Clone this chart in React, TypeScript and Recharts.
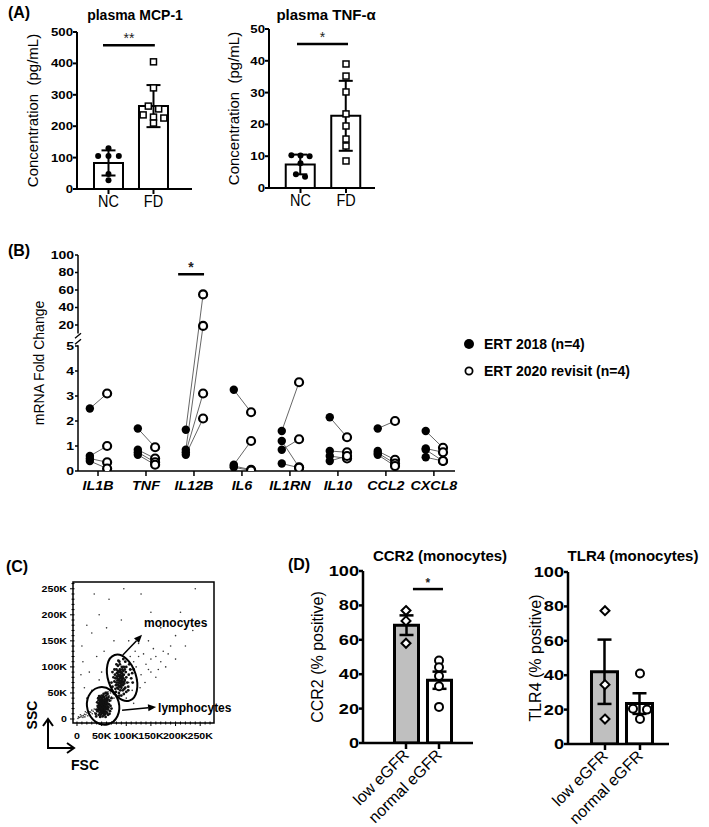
import React from "react";
import {
  ComposedChart,
  Bar,
  Cell,
  ErrorBar,
  Scatter,
  Line,
  XAxis,
  YAxis,
  ReferenceLine,
  ReferenceDot,
  ReferenceArea,
} from "recharts";

const FONT = "'Liberation Sans', Arial, sans-serif";

// ---- (A) plasma cytokines, NC vs FD (mean ± SD) ----
const groupsA = ["NC", "FD"];
const mcp1Mean = [83, 264];
const mcp1Sd = [40, 67];
const mcp1NC = [130, 105, 105, 105, 48, 28];
const mcp1FD = [405, 322, 264, 255, 236, 229, 226, 210];
const tnfMean = [7.4, 22.7];
const tnfSd = [3.1, 11];
const tnfNC = [10.3, 10.2, 10.0, 7.8, 4.3, 3.5];
const tnfFD = [39, 35.2, 30.2, 23.3, 19.5, 15.4, 13.2, 8.5];

// ---- (B) mRNA fold change, paired ERT 2018 -> ERT 2020 ----
const genes = ["IL1B", "TNF", "IL12B", "IL6", "IL1RN", "IL10", "CCL2", "CXCL8"];
const ert2018 = [
  [2.5, 0.6, 0.5, 0.4],
  [1.7, 0.85, 0.75, 0.65],
  [1.65, 0.85, 0.75, 0.65],
  [3.25, 0.25, 0.2, 0.15],
  [1.6, 1.2, 0.85, 0.3],
  [2.15, 0.8, 0.6, 0.4],
  [1.7, 0.8, 0.72, 0.65],
  [1.6, 0.9, 0.85, 0.55],
];
const ert2020 = [
  [3.1, 1.0, 0.35, 0.1],
  [0.95, 0.5, 0.35, 0.25],
  [55, 19, 3.1, 2.1],
  [2.35, 1.2, 0.05, 0.02],
  [3.55, 0.15, 1.27, 0.13],
  [1.35, 0.75, 0.5, 0.6],
  [2.0, 0.45, 0.3, 0.2],
  [0.93, 0.75, 0.4, 0.4],
];
const lowTicks = [0, 1, 2, 3, 4, 5];
const highTicks = [20, 40, 60, 80, 100];

// ---- (C) FSC / SSC events, in K ----
const debrisEvents = [
  [2, 1], [5, 3], [8, 4], [10, 6], [13, 6], [15, 9], [18, 8], [20, 12], [23, 11], [26, 14],
  [28, 13], [30, 17], [33, 15], [35, 19], [38, 18], [12, 3], [22, 6], [7, 8], [3, 4], [17, 14],
  [25, 9], [31, 10], [36, 12], [40, 14], [16, 4],
];
const lymphocyteEvents = [
  [45, 20], [48, 28], [50, 22], [52, 30], [55, 25], [53, 18], [57, 33], [49, 35], [46, 12], [58, 20],
  [60, 28], [51, 40], [54, 15], [47, 25], [56, 38], [62, 24], [44, 30], [50, 10], [59, 14], [53, 27],
  [48, 17], [55, 42], [61, 35], [43, 22], [57, 9], [52, 35], [46, 38], [63, 18], [50, 31], [54, 21],
  [58, 27], [49, 23], [56, 16], [45, 27], [60, 40], [53, 12], [51, 26], [47, 33], [55, 30], [62, 30],
  [42, 15], [59, 45], [64, 22], [48, 8], [52, 20], [57, 24], [50, 37], [54, 33], [46, 19], [61, 12],
  [53, 44], [58, 34], [44, 36], [49, 14], [56, 21], [51, 17], [65, 28], [47, 42], [55, 8], [60, 19],
  [38, 10], [40, 18], [42, 25], [39, 5], [41, 32], [44, 8], [66, 35], [68, 25], [70, 40], [67, 15],
  [64, 42], [62, 48], [58, 50], [54, 48], [50, 45], [45, 44], [43, 40], [66, 10], [63, 8], [70, 20],
  [52, 5], [58, 4], [47, 4], [60, 50], [56, 26], [54, 29], [52, 23], [50, 27], [57, 19], [55, 35],
  [53, 32], [49, 20], [51, 13], [59, 31], [48, 31], [46, 23], [61, 22], [56, 11], [62, 38], [44, 17],
];
const bridgeEvents = [
  [65, 45], [68, 50], [70, 42], [72, 55], [66, 38], [74, 48], [63, 52], [69, 35], [75, 40], [71, 60],
];
const monocyteEvents = [
  [80, 70], [85, 75], [88, 68], [90, 80], [84, 85], [92, 72], [86, 62], [78, 78], [95, 85], [89, 90],
  [82, 60], [93, 65], [87, 95], [91, 100], [83, 92], [97, 75], [79, 65], [86, 82], [94, 92], [88, 55],
  [81, 88], [90, 60], [96, 68], [84, 70], [92, 82], [87, 105], [99, 90], [77, 85], [85, 50], [93, 55],
  [89, 73], [82, 78], [98, 60], [91, 88], [86, 110], [80, 95], [95, 100], [88, 85], [84, 58], [100, 80],
  [83, 102], [92, 95], [76, 72], [90, 70], [87, 78], [94, 78], [81, 82], [96, 58], [89, 63], [85, 90],
  [68, 55], [72, 62], [75, 50], [70, 70], [74, 80], [78, 58], [102, 70], [105, 85], [108, 95], [110, 78],
  [104, 62], [112, 88], [100, 100], [106, 105], [98, 110], [94, 115], [72, 90], [76, 95], [80, 105], [84, 112],
  [90, 45], [95, 48], [100, 52], [86, 45], [104, 55], [115, 95], [113, 70], [97, 95], [79, 52], [83, 66],
  [91, 76], [88, 92], [93, 84], [85, 64], [96, 72], [82, 74], [90, 65], [87, 72], [94, 69], [89, 82],
];
const sparseEvents = [
  [110, 95], [115, 110], [120, 100], [125, 120], [105, 70], [130, 85], [140, 105], [150, 115], [135, 125], [145, 95],
  [160, 120], [170, 110], [155, 135], [118, 130], [108, 120], [122, 75], [128, 60], [138, 70], [112, 55], [150, 90],
  [165, 95], [175, 130], [185, 125], [190, 140], [200, 115], [145, 150], [125, 145], [105, 150], [180, 100], [160, 80],
  [20, 180], [30, 165], [45, 200], [60, 175], [40, 120], [25, 90], [15, 60], [10, 140], [35, 240], [65, 230],
  [95, 250], [130, 240], [150, 205], [170, 175], [200, 160], [210, 205], [240, 250], [55, 130], [75, 150], [90, 190],
  [50, 90], [30, 55], [20, 40], [100, 40], [115, 30], [8, 85], [12, 110], [45, 75], [235, 170], [220, 140],
];
const flowMajor = [0, 50, 100, 150, 200, 250];

// ---- (D) monocyte markers (mean ± SEM) ----
const groupsD = ["low eGFR", "normal eGFR"];
const ccr2Mean = [68.5, 36.5];
const ccr2Sem = [5.7, 5];
const ccr2Low = [77, 71, 58];
const ccr2Normal = [48, 44, 39, 33, 21];
const tlr4Mean = [42, 23.5];
const tlr4Sem = [18.7, 6];
const tlr4Low = [77.5, 34.5, 14.5];
const tlr4Normal = [41, 20.5, 20, 14.5];

// broken y axis for (B): 0-5 linear, then 20-100 compressed
const fold = (v: number) => (v <= 5 ? v : 5.84 + (v - 20) * 0.035);
const bTicks = [...lowTicks, ...highTicks];
const bTickPos = bTicks.map(fold);

// GraphPad-like horizontal spreading of points that sit at similar values
function swarm(values: number[], center: number, thr: number, step: number) {
  const order = values.map((_, i) => i).sort((a, b) => values[b] - values[a]);
  const out: { x: number; y: number }[] = new Array(values.length);
  let i = 0;
  while (i < order.length) {
    const head = values[order[i]];
    let j = i;
    while (j < order.length && head - values[order[j]] < thr) j++;
    const k = j - i;
    for (let m = 0; m < k; m++) {
      out[order[i + m]] = { x: center + (m - (k - 1) / 2) * step, y: values[order[i + m]] };
    }
    i = j;
  }
  return out;
}

type TickOpts = {
  size: number;
  sx?: number;
  weight?: string | number;
  italic?: boolean;
  anchor: "start" | "middle" | "end";
  dy?: string;
  rotate?: number;
  fmt: (v: number) => string;
};

const stretchTick = (o: TickOpts) => (props: any) => {
  const { x, y, payload } = props;
  return (
    <g transform={`translate(${x},${y})`}>
      <text
        transform={`rotate(${o.rotate ?? 0}) scale(${o.sx ?? 1},1)`}
        textAnchor={o.anchor}
        dy={o.dy ?? "0.355em"}
        fontSize={o.size}
        fontWeight={o.weight ?? "bold"}
        fontStyle={o.italic ? "italic" : "normal"}
        fontFamily={FONT}
        fill="#000"
      >
        {o.fmt(payload.value)}
      </text>
    </g>
  );
};

const dotShape = (p: any) => <circle cx={p.cx} cy={p.cy} r={3} fill="#000" />;
const squareShape = (p: any) => (
  <rect x={p.cx - 3} y={p.cy - 3} width={6} height={6} fill="#fff" stroke="#000" strokeWidth={1.5} />
);
const diamondShape = (p: any) => (
  <polygon
    points={`${p.cx},${p.cy - 4.5} ${p.cx + 4.5},${p.cy} ${p.cx},${p.cy + 4.5} ${p.cx - 4.5},${p.cy}`}
    fill="#fff"
    stroke="#000"
    strokeWidth={2}
  />
);
const ringShape = (p: any) => <circle cx={p.cx} cy={p.cy} r={4} fill="#fff" stroke="#000" strokeWidth={2} />;

const starShape = (text: string, size: number, weight: string | number) => (p: any) => (
  <text x={p.cx} y={p.cy - 2} textAnchor="middle" fontSize={size} fontWeight={weight} fontFamily={FONT} fill="#222">
    {text}
  </text>
);

type BarPanelProps = {
  left: number;
  top: number;
  width: number;
  height: number;
  margin: { top: number; right: number; bottom: number; left: number };
  yAxisWidth: number;
  xAxisHeight: number;
  xDomain: [number, number];
  yDomain: [number, number];
  yTicks: number[];
  groups: string[];
  means: number[];
  errs: number[];
  points: number[][];
  shapes: ((p: any) => React.ReactElement)[];
  thr: number;
  step: number;
  barSize: number;
  barFills: string[];
  barStroke: number;
  axisW: number;
  capW: number;
  yLabel: string;
  yLabelOffset: number;
  yLabelSize: number;
  yTick: (p: any) => React.ReactElement;
  xTick: (p: any) => React.ReactElement;
  xTickSize: number;
  xTickMargin: number;
  yTickSize: number;
  sig?: { x1: number; x2: number; y: number; text: string; size: number; weight: string | number; w: number };
};

function BarPanel(p: BarPanelProps) {
  const barData = p.means.map((m, i) => ({ x: i + 1, y: m, err: p.errs[i] }));
  const pts = p.points.map((vals, i) => swarm(vals, i + 1, p.thr, p.step));
  return (
    <div style={{ position: "absolute", left: p.left, top: p.top }}>
      <ComposedChart width={p.width} height={p.height} data={barData} margin={p.margin}>
        <XAxis
          type="number"
          dataKey="x"
          domain={p.xDomain}
          ticks={p.groups.map((_, i) => i + 1)}
          interval={0}
          allowDataOverflow
          height={p.xAxisHeight}
          axisLine={{ stroke: "#000", strokeWidth: p.axisW }}
          tickLine={{ stroke: "#000", strokeWidth: p.axisW }}
          tickSize={p.xTickSize}
          tickMargin={p.xTickMargin}
          tick={p.xTick}
        />
        <XAxis xAxisId="pts" type="number" dataKey="x" domain={p.xDomain} allowDataOverflow hide />
        <YAxis
          type="number"
          dataKey="y"
          domain={p.yDomain}
          ticks={p.yTicks}
          interval={0}
          allowDataOverflow
          width={p.yAxisWidth}
          axisLine={{ stroke: "#000", strokeWidth: p.axisW }}
          tickLine={{ stroke: "#000", strokeWidth: p.axisW }}
          tickSize={p.yTickSize}
          tickMargin={0}
          tick={p.yTick}
          label={{
            value: p.yLabel,
            angle: -90,
            position: "insideLeft",
            offset: p.yLabelOffset,
            style: { textAnchor: "middle", fontSize: p.yLabelSize, fill: "#000", fontFamily: FONT },
          }}
        />
        <Bar dataKey="y" barSize={p.barSize} stroke="#000" strokeWidth={p.barStroke} isAnimationActive={false}>
          {barData.map((_, i) => (
            <Cell key={i} fill={p.barFills[i]} />
          ))}
          <ErrorBar dataKey="err" direction="y" width={p.capW} stroke="#000" strokeWidth={p.axisW} />
        </Bar>
        {pts.map((d, i) => (
          <Scatter key={i} xAxisId="pts" data={d} dataKey="y" shape={p.shapes[i]} isAnimationActive={false} />
        ))}
        {p.sig && (
          <ReferenceLine
            segment={[
              { x: p.sig.x1, y: p.sig.y },
              { x: p.sig.x2, y: p.sig.y },
            ]}
            stroke="#000"
            strokeWidth={p.sig.w}
            ifOverflow="visible"
          />
        )}
        {p.sig && (
          <ReferenceDot
            x={(p.sig.x1 + p.sig.x2) / 2}
            y={p.sig.y}
            ifOverflow="visible"
            shape={starShape(p.sig.text, p.sig.size, p.sig.weight)}
          />
        )}
      </ComposedChart>
    </div>
  );
}

function Caption(props: { x: number; y: number; size: number; bold?: boolean; rotate?: number; children: React.ReactNode }) {
  return (
    <div
      style={{
        position: "absolute",
        left: props.x,
        top: props.y,
        transform: `translate(-50%,-50%) rotate(${props.rotate ?? 0}deg)`,
        fontSize: props.size,
        fontWeight: props.bold ? "bold" : "normal",
        whiteSpace: "nowrap",
        lineHeight: 1,
        color: "#000",
      }}
    >
      {props.children}
    </div>
  );
}

const numFmt = (v: number) => String(v);
const aYTick = stretchTick({ size: 11, sx: 1.2, anchor: "end", fmt: numFmt });
const aXTick = stretchTick({ size: 17, sx: 0.85, weight: "normal", anchor: "middle", dy: "0.71em", fmt: (v) => groupsA[v - 1] });
const dYTick = stretchTick({ size: 14, sx: 1.3, anchor: "end", fmt: numFmt });
const dXTick = stretchTick({ size: 16, weight: "normal", anchor: "end", rotate: -45, dy: "0.355em", fmt: (v) => groupsD[v - 1] });

const bYTick = stretchTick({
  size: 10,
  sx: 1.4,
  anchor: "end",
  fmt: (t) => {
    let best = 0;
    bTickPos.forEach((p, i) => {
      if (Math.abs(p - t) < Math.abs(bTickPos[best] - t)) best = i;
    });
    return String(bTicks[best]);
  },
});
const bXTick = stretchTick({ size: 13, sx: 1.1, italic: true, anchor: "middle", dy: "0.71em", fmt: (v) => genes[v] });

// flow axes: labelled majors with minor ticks every 10K
const flowTickX = (props: any) => {
  const { x, y, payload } = props;
  const v = payload.value as number;
  const major = flowMajor.includes(v);
  const axisY = y - 10;
  return (
    <g>
      <line x1={x} y1={axisY - 1.5} x2={x} y2={axisY + (major ? 3 : 1.5)} stroke="#000" strokeWidth={1} />
      {major && (
        <text
          transform={`translate(${x},${y}) scale(1.25,1)`}
          textAnchor="middle"
          dy="0.71em"
          fontSize={8.5}
          fontWeight="bold"
          fontFamily={FONT}
          fill="#000"
        >
          {v === 0 ? "0" : `${v}K`}
        </text>
      )}
    </g>
  );
};
const flowTickY = (props: any) => {
  const { x, y, payload } = props;
  const v = payload.value as number;
  const major = flowMajor.includes(v);
  const axisX = x + 6;
  return (
    <g>
      <line x1={axisX - (major ? 3 : 1.5)} y1={y} x2={axisX + 1.5} y2={y} stroke="#000" strokeWidth={1} />
      {major && (
        <text
          transform={`translate(${x},${y}) scale(1.25,1)`}
          textAnchor="end"
          dy="0.355em"
          fontSize={8.5}
          fontWeight="bold"
          fontFamily={FONT}
          fill="#000"
        >
          {v === 0 ? "0" : `${v}K`}
        </text>
      )}
    </g>
  );
};

const gateShape = (rx: number, ry: number, rot: number) => (p: any) => (
  <ellipse
    cx={p.cx}
    cy={p.cy}
    rx={rx}
    ry={ry}
    transform={`rotate(${rot} ${p.cx} ${p.cy})`}
    fill="none"
    stroke="#000"
    strokeWidth={2}
  />
);
const arrowShape = (p: any) => {
  const { x1, y1, x2, y2 } = p;
  if ([x1, y1, x2, y2].some((v) => typeof v !== "number")) return <g />;
  const a = Math.atan2(y2 - y1, x2 - x1);
  const L = 8;
  const W = 3.5;
  const bx = x2 - L * Math.cos(a);
  const by = y2 - L * Math.sin(a);
  const pts = `${x2},${y2} ${bx - W * Math.sin(a)},${by + W * Math.cos(a)} ${bx + W * Math.sin(a)},${by - W * Math.cos(a)}`;
  return (
    <g>
      <line x1={x1} y1={y1} x2={bx} y2={by} stroke="#000" strokeWidth={1.5} />
      <polygon points={pts} fill="#000" />
    </g>
  );
};
const gateLabel = (text: string) => (p: any) => (
  <text x={p.cx} y={p.cy} dy="0.355em" fontSize={12} fontWeight="bold" fontFamily={FONT} fill="#000">
    {text}
  </text>
);
const coreDot = (p: any) => <circle cx={p.cx} cy={p.cy} r={1.4} fill="#111" />;
const looseDot = (p: any) => <circle cx={p.cx} cy={p.cy} r={0.8} fill="#333" />;
const breakShape = (p: any) => (
  <g stroke="#000" strokeWidth={1.3}>
    <line x1={p.cx - 3} y1={p.cy - 1} x2={p.cx + 3} y2={p.cy - 6} />
    <line x1={p.cx - 3} y1={p.cy + 5} x2={p.cx + 3} y2={p.cy} />
  </g>
);
const filledB = (p: any) => <circle cx={p.cx} cy={p.cy} r={4.2} fill="#000" />;
const openB = (p: any) => <circle cx={p.cx} cy={p.cy} r={4} fill="#fff" stroke="#000" strokeWidth={2.2} />;

const FILLED_OFF = -0.17;
const OPEN_OFF = 0.19;
const B_XMIN = -0.417;

const toXY = (list: number[][]) => list.map(([x, y]) => ({ x, y }));

export default function App() {
  const filledPts = genes.flatMap((_, i) => ert2018[i].map((v) => ({ x: i + FILLED_OFF, y: fold(v) })));
  const openPts = genes.flatMap((_, i) => ert2020[i].map((v) => ({ x: i + OPEN_OFF, y: fold(v) })));
  const pairLines = genes.flatMap((_, i) =>
    ert2018[i].flatMap((v, j) => [
      { x: i + FILLED_OFF, y: fold(v) },
      { x: i + OPEN_OFF, y: fold(ert2020[i][j]) },
      { x: i + OPEN_OFF, y: null },
    ])
  );
  const coreEvents = toXY([...lymphocyteEvents, ...monocyteEvents]);
  const looseEvents = toXY([...debrisEvents, ...bridgeEvents, ...sparseEvents]);
  const flowTicks: number[] = [];
  for (let t = 0; t <= 270; t += 10) flowTicks.push(t);
  const flowTicksY = flowTicks.filter((t) => t <= 260);

  return (
    <div
      style={{
        position: "absolute",
        left: 0,
        top: 0,
        width: 709,
        height: 827,
        background: "#fff",
        fontFamily: FONT,
        overflow: "hidden",
      }}
    >
      {/* (A) */}
      <Caption x={19} y={13} size={16} bold>
        (A)
      </Caption>
      <Caption x={135} y={15} size={14} bold>
        plasma MCP-1
      </Caption>
      <Caption x={326} y={14} size={15} bold>
        plasma TNF-α
      </Caption>
      <BarPanel
        left={0}
        top={20}
        width={200}
        height={200}
        margin={{ top: 12, right: 8, bottom: 5, left: 0 }}
        yAxisWidth={77}
        xAxisHeight={26}
        xDomain={[0.3, 2.856]}
        yDomain={[0, 500]}
        yTicks={[0, 100, 200, 300, 400, 500]}
        groups={groupsA}
        means={mcp1Mean}
        errs={mcp1Sd}
        points={[mcp1NC, mcp1FD]}
        shapes={[dotShape, squareShape]}
        thr={18}
        step={0.23}
        barSize={29}
        barFills={["#fff", "#fff"]}
        barStroke={2}
        axisW={2}
        capW={7}
        yLabel={"Concentration\u00a0\u00a0(pg/mL)"}
        yLabelOffset={33}
        yLabelSize={15}
        yTick={aYTick}
        xTick={aXTick}
        xTickSize={5}
        xTickMargin={1}
        yTickSize={4}
        sig={{ x1: 0.878, x2: 2.03, y: 458, text: "**", size: 14, weight: "normal", w: 2.5 }}
      />
      <BarPanel
        left={200}
        top={20}
        width={190}
        height={200}
        margin={{ top: 9, right: 15, bottom: 5, left: 0 }}
        yAxisWidth={69}
        xAxisHeight={27}
        xDomain={[0.308, 2.637]}
        yDomain={[0, 50]}
        yTicks={[0, 10, 20, 30, 40, 50]}
        groups={groupsA}
        means={tnfMean}
        errs={tnfSd}
        points={[tnfNC, tnfFD]}
        shapes={[dotShape, squareShape]}
        thr={1.8}
        step={0.2}
        barSize={29}
        barFills={["#fff", "#fff"]}
        barStroke={2}
        axisW={2}
        capW={7}
        yLabel={"Concentration\u00a0\u00a0(pg/mL)"}
        yLabelOffset={34}
        yLabelSize={15}
        yTick={aYTick}
        xTick={aXTick}
        xTickSize={5}
        xTickMargin={1}
        yTickSize={4}
        sig={{ x1: 0.923, x2: 2.044, y: 45.3, text: "*", size: 14, weight: "normal", w: 2.5 }}
      />

      {/* (B) */}
      <Caption x={19} y={251} size={16} bold>
        (B)
      </Caption>
      <div style={{ position: "absolute", left: 0, top: 240 }}>
        <ComposedChart width={470} height={270} margin={{ top: 15, right: 15, bottom: 5, left: 0 }}>
          <XAxis
            type="number"
            dataKey="x"
            domain={[B_XMIN, 7.44]}
            ticks={genes.map((_, i) => i)}
            interval={0}
            allowDataOverflow
            height={34}
            axisLine={{ stroke: "#000", strokeWidth: 1.5 }}
            tickLine={{ stroke: "#000", strokeWidth: 1.5 }}
            tickSize={5}
            tickMargin={5}
            tick={bXTick}
          />
          <YAxis
            type="number"
            dataKey="y"
            domain={[0, fold(100)]}
            ticks={bTickPos}
            interval={0}
            allowDataOverflow
            width={78}
            axisLine={false}
            tickLine={{ stroke: "#000", strokeWidth: 1.5 }}
            tickSize={3}
            tickMargin={1}
            tick={bYTick}
            label={{
              value: "mRNA Fold Change",
              angle: -90,
              position: "insideLeft",
              offset: 39,
              style: { textAnchor: "middle", fontSize: 14, fill: "#000", fontFamily: FONT },
            }}
          />
          <ReferenceLine
            segment={[
              { x: B_XMIN, y: 0 },
              { x: B_XMIN, y: 5.03 },
            ]}
            stroke="#000"
            strokeWidth={1.5}
            ifOverflow="visible"
          />
          <ReferenceLine
            segment={[
              { x: B_XMIN, y: 5.5 },
              { x: B_XMIN, y: fold(100) },
            ]}
            stroke="#000"
            strokeWidth={1.5}
            ifOverflow="visible"
          />
          <ReferenceDot x={B_XMIN} y={5.27} ifOverflow="visible" shape={breakShape} />
          <Line
            data={pairLines}
            dataKey="y"
            stroke="#555"
            strokeWidth={0.9}
            dot={false}
            connectNulls={false}
            isAnimationActive={false}
          />
          <ReferenceArea x1={1.9} x2={2.4} y1={5.08} y2={5.3} fill="#fff" fillOpacity={1} stroke="none" />
          <Scatter data={filledPts} dataKey="y" shape={filledB} isAnimationActive={false} />
          <Scatter data={openPts} dataKey="y" shape={openB} isAnimationActive={false} />
          <ReferenceLine
            segment={[
              { x: 1.67, y: fold(78) },
              { x: 2.21, y: fold(78) },
            ]}
            stroke="#000"
            strokeWidth={2.5}
            ifOverflow="visible"
          />
          <ReferenceDot x={1.94} y={fold(78)} ifOverflow="visible" shape={starShape("*", 14, "bold")} />
        </ComposedChart>
      </div>
      <div style={{ position: "absolute", left: 460, top: 334 }}>
        <svg width={240} height={48} style={{ position: "absolute", left: 0, top: 0 }}>
          <circle cx={9} cy={10} r={5} fill="#000" />
          <circle cx={9} cy={37} r={3.6} fill="#fff" stroke="#000" strokeWidth={1.8} />
          <text x={24} y={10} dy="0.355em" fontSize={14} fontWeight="bold" fontFamily={FONT}>
            ERT 2018 (n=4)
          </text>
          <text x={24} y={37} dy="0.355em" fontSize={14} fontWeight="bold" fontFamily={FONT}>
            ERT 2020 revisit (n=4)
          </text>
        </svg>
      </div>

      {/* (C) */}
      <Caption x={17} y={567} size={16} bold>
        (C)
      </Caption>
      <div style={{ position: "absolute", left: 0, top: 560 }}>
        <ComposedChart width={260} height={200} margin={{ top: 22, right: 46, bottom: 5, left: 0 }}>
          <XAxis
            type="number"
            dataKey="x"
            domain={[-8.1, 278]}
            ticks={flowTicks}
            interval={0}
            allowDataOverflow
            height={32}
            axisLine={false}
            tickLine={false}
            tickSize={3}
            tickMargin={7}
            tick={flowTickX}
          />
          <YAxis
            type="number"
            dataKey="y"
            domain={[-7.7, 263]}
            ticks={flowTicksY}
            interval={0}
            allowDataOverflow
            width={73}
            axisLine={false}
            tickLine={false}
            tickSize={3}
            tickMargin={3}
            tick={flowTickY}
          />
          <ReferenceArea
            x1={-8.1}
            x2={278}
            y1={-7.7}
            y2={263}
            fill="none"
            stroke="#000"
            strokeWidth={1.5}
            ifOverflow="visible"
          />
          <Scatter data={looseEvents} dataKey="y" shape={looseDot} isAnimationActive={false} />
          <Scatter data={coreEvents} dataKey="y" shape={coreDot} isAnimationActive={false} />
          <ReferenceDot x={91.5} y={79} ifOverflow="visible" shape={gateShape(14, 24, -18)} />
          <ReferenceDot x={53} y={25} ifOverflow="visible" shape={gateShape(16, 19, -15)} />
          <ReferenceLine
            segment={[
              { x: 93, y: 123 },
              { x: 132, y: 161.5 },
            ]}
            ifOverflow="visible"
            shape={arrowShape}
          />
          <ReferenceLine
            segment={[
              { x: 91.5, y: 17 },
              { x: 160.5, y: 23 },
            ]}
            ifOverflow="visible"
            shape={arrowShape}
          />
          <ReferenceDot x={136} y={185} ifOverflow="visible" shape={gateLabel("monocytes")} />
          <ReferenceDot x={164.6} y={21} ifOverflow="visible" shape={gateLabel("lymphocytes")} />
        </ComposedChart>
      </div>
      <svg width={60} height={50} style={{ position: "absolute", left: 30, top: 710 }}>
        <g stroke="#000" strokeWidth={2} fill="none">
          <line x1={18} y1={38} x2={18} y2={10} />
          <polyline points="13,16 18,9 23,16" />
          <line x1={17} y1={38} x2={43} y2={38} />
          <polyline points="37,33 44,38 37,43" />
        </g>
      </svg>
      <Caption x={32} y={715} size={14} bold rotate={-90}>
        SSC
      </Caption>
      <Caption x={85} y={765} size={14} bold>
        FSC
      </Caption>

      {/* (D) */}
      <Caption x={299} y={565} size={16} bold>
        (D)
      </Caption>
      <Caption x={440} y={555} size={15} bold>
        CCR2 (monocytes)
      </Caption>
      <Caption x={633} y={555} size={15} bold>
        TLR4 (monocytes)
      </Caption>
      <BarPanel
        left={290}
        top={560}
        width={200}
        height={267}
        margin={{ top: 11, right: 17, bottom: 5, left: 0 }}
        yAxisWidth={73}
        xAxisHeight={79}
        xDomain={[-0.303, 3.03]}
        yDomain={[0, 100]}
        yTicks={[0, 20, 40, 60, 80, 100]}
        groups={groupsD}
        means={ccr2Mean}
        errs={ccr2Sem}
        points={[ccr2Low, ccr2Normal]}
        shapes={[diamondShape, ringShape]}
        thr={3.5}
        step={0.4}
        barSize={24}
        barFills={["#bfbfbf", "#ffffff"]}
        barStroke={3}
        axisW={2.5}
        capW={7}
        yLabel="CCR2 (% positive)"
        yLabelOffset={27}
        yLabelSize={16}
        yTick={dYTick}
        xTick={dXTick}
        xTickSize={6}
        xTickMargin={3}
        yTickSize={4}
        sig={{ x1: 1.21, x2: 2.12, y: 89.5, text: "*", size: 12, weight: "bold", w: 2.5 }}
      />
      <BarPanel
        left={495}
        top={560}
        width={200}
        height={267}
        margin={{ top: 12, right: 26, bottom: 5, left: 0 }}
        yAxisWidth={73}
        xAxisHeight={78}
        xDomain={[-0.057, 2.829]}
        yDomain={[0, 100]}
        yTicks={[0, 20, 40, 60, 80, 100]}
        groups={groupsD}
        means={tlr4Mean}
        errs={tlr4Sem}
        points={[tlr4Low, tlr4Normal]}
        shapes={[diamondShape, ringShape]}
        thr={3.5}
        step={0.4}
        barSize={26}
        barFills={["#bfbfbf", "#ffffff"]}
        barStroke={3}
        axisW={2.5}
        capW={7}
        yLabel="TLR4 (% positive)"
        yLabelOffset={40}
        yLabelSize={16}
        yTick={dYTick}
        xTick={dXTick}
        xTickSize={6}
        xTickMargin={3}
        yTickSize={4}
      />
    </div>
  );
}
